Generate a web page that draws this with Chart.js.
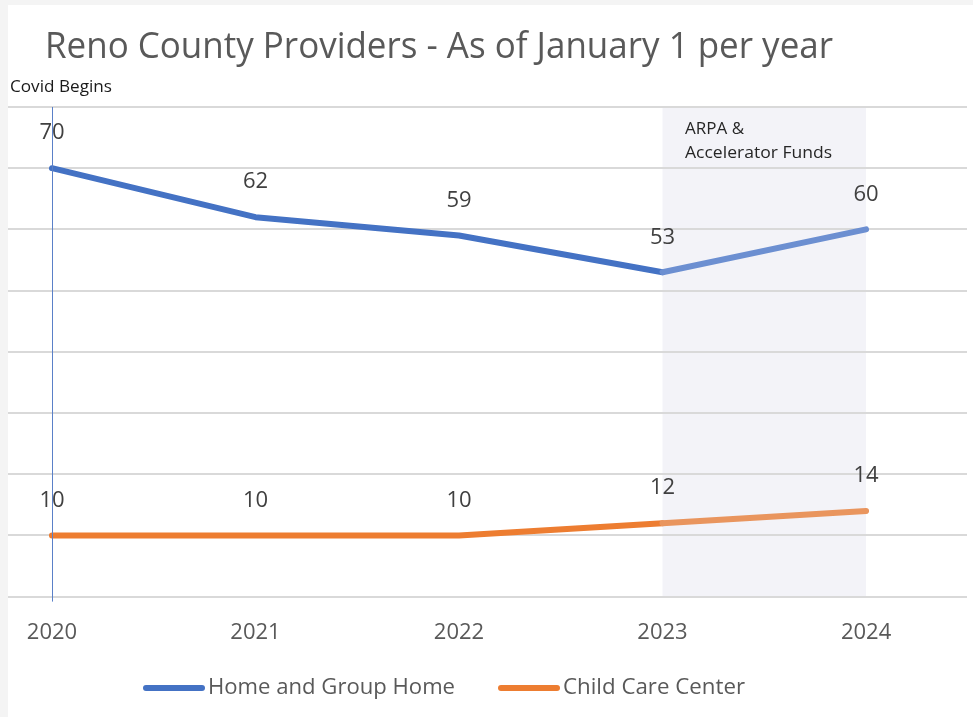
<!DOCTYPE html>
<html>
<head>
<meta charset="utf-8">
<script src="https://cdn.jsdelivr.net/npm/chart.js@4"></script>
<style>
  html, body { margin: 0; padding: 0; background: #f4f4f4; }
  #wrap { position: absolute; left: 0; top: 0; width: 973px; height: 717px; }
  #chart { display: block; }
</style>
</head>
<body>
<div id="wrap"><canvas id="chart" width="973" height="717"></canvas></div>
<script>
// chart data
const years = [2020, 2021, 2022, 2023, 2024];
const homeAndGroupHome = [70, 62, 59, 53, 60];
const childCareCenter = [10, 10, 10, 12, 14];
const seriesNames = ['Home and Group Home', 'Child Care Center'];
const titleText = 'Reno County Providers - As of January 1 per year';
const covidYear = 2020;
const covidLabel = 'Covid Begins';
const fundsStart = 2023;
const fundsEnd = 2024;
const fundsLabel = ['ARPA &', 'Accelerator Funds'];

const BLUE = '#4472c4';
const BLUE_LIGHT = '#6c8fd1';
const ORANGE = '#ed7d31';
const ORANGE_LIGHT = '#e9955e';
const FONT = '"Open Sans", "Noto Sans", sans-serif';

function toPoints(vals) {
    return years.map((y, i) => ({ x: y, y: vals[i] }));
}

// segment inside the funds period is drawn lighter
function segColor(base, light) {
    return ctx => (years[ctx.p0DataIndex] >= fundsStart ? light : base);
}

// draw text squeezed/stretched to a given width
function fitText(ctx, text, x, y, width) {
    const w = ctx.measureText(text).width;
    ctx.save();
    ctx.translate(x, y);
    ctx.scale(width / w, 1);
    ctx.fillText(text, 0, 0);
    ctx.restore();
}

const annotations = {
    id: 'annotations',
    beforeDraw(chart) {
        const { ctx, chartArea, scales } = chart;
        ctx.save();
        // white card
        ctx.fillStyle = '#ffffff';
        ctx.fillRect(8, 5, chart.width - 8, chart.height - 5);
        // shaded funds period
        const x0 = scales.x.getPixelForValue(fundsStart);
        const x1 = scales.x.getPixelForValue(fundsEnd);
        ctx.fillStyle = '#f3f3f8';
        ctx.fillRect(x0, chartArea.top, x1 - x0, chartArea.bottom - chartArea.top);
        ctx.restore();
    },
    afterDatasetsDraw(chart) {
        const { ctx, chartArea, scales } = chart;
        ctx.save();
        // covid line
        const cx = Math.round(scales.x.getPixelForValue(covidYear)) + 0.5;
        ctx.strokeStyle = '#5a80c8';
        ctx.lineWidth = 1;
        ctx.beginPath();
        ctx.moveTo(cx, chartArea.top);
        ctx.lineTo(cx, chartArea.bottom + 5);
        ctx.stroke();

        // title
        ctx.fillStyle = '#595959';
        ctx.textBaseline = 'middle';
        ctx.textAlign = 'left';
        ctx.font = '37px ' + FONT;
        fitText(ctx, titleText, 45, 47, 788);

        // notes
        ctx.fillStyle = '#1a1a1a';
        ctx.font = '17px ' + FONT;
        fitText(ctx, covidLabel, 10, 87, 102);
        ctx.fillStyle = '#262626';
        ctx.fillText(fundsLabel[0], 685, 129);
        fitText(ctx, fundsLabel[1], 685, 153, 147);

        // data labels
        ctx.fillStyle = '#404040';
        ctx.font = '22px ' + FONT;
        ctx.textAlign = 'center';
        chart.data.datasets.forEach((ds, di) => {
            const meta = chart.getDatasetMeta(di);
            meta.data.forEach((pt, i) => {
                ctx.fillText(String(ds.data[i].y), pt.x, pt.y - 35);
            });
        });

        // legend
        const items = [
            { label: seriesNames[0], color: BLUE, x: 143, w: 247 },
            { label: seriesNames[1], color: ORANGE, x: 498, w: 182 }
        ];
        ctx.font = '22px ' + FONT;
        ctx.textAlign = 'left';
        ctx.lineCap = 'round';
        items.forEach(it => {
            ctx.strokeStyle = it.color;
            ctx.lineWidth = 6;
            ctx.beginPath();
            ctx.moveTo(it.x + 3, 688);
            ctx.lineTo(it.x + 59, 688);
            ctx.stroke();
            ctx.fillStyle = '#595959';
            fitText(ctx, it.label, it.x + 65, 688, it.w);
        });
        ctx.restore();
    }
};

new Chart(document.getElementById('chart'), {
    type: 'line',
    data: {
        datasets: [
            {
                label: seriesNames[0],
                data: toPoints(homeAndGroupHome),
                borderColor: BLUE,
                borderWidth: 6,
                borderCapStyle: 'round',
                borderJoinStyle: 'round',
                pointRadius: 0,
                tension: 0,
                segment: { borderColor: segColor(BLUE, BLUE_LIGHT) }
            },
            {
                label: seriesNames[1],
                data: toPoints(childCareCenter),
                borderColor: ORANGE,
                borderWidth: 6,
                borderCapStyle: 'round',
                borderJoinStyle: 'round',
                pointRadius: 0,
                tension: 0,
                segment: { borderColor: segColor(ORANGE, ORANGE_LIGHT) }
            }
        ]
    },
    options: {
        responsive: false,
        animation: false,
        layout: { padding: { top: 107, left: 8, right: 6, bottom: 48 } },
        plugins: {
            legend: { display: false },
            title: { display: false },
            tooltip: { enabled: false }
        },
        scales: {
            x: {
                type: 'linear',
                min: 2019.784,
                max: 2024.496,
                afterBuildTicks: axis => { axis.ticks = years.map(v => ({ value: v })); },
                grid: { display: false, drawTicks: false },
                border: { display: false },
                ticks: {
                    padding: 23,
                    color: '#595959',
                    font: { family: FONT, size: 22 },
                    callback: v => String(v),
                    autoSkip: false,
                    maxRotation: 0
                }
            },
            y: {
                min: 0,
                max: 80,
                ticks: { display: false, stepSize: 10 },
                grid: { color: '#d9d9d9', lineWidth: 2, drawTicks: false },
                border: { display: false }
            }
        }
    },
    plugins: [annotations]
});
</script>
</body>
</html>
